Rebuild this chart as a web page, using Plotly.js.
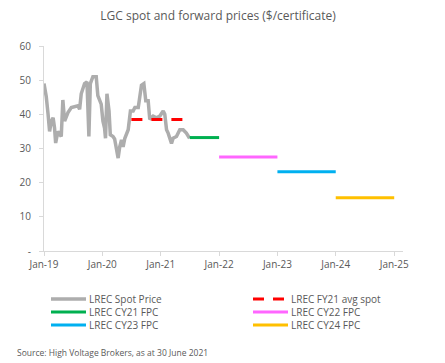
<!DOCTYPE html>
<html>
<head>
<meta charset="utf-8">
<script src="https://cdn.plot.ly/plotly-3.0.1.min.js"></script>
<style>html,body{margin:0;padding:0;background:#fff;}#chart{width:445px;height:363px;}</style>
</head>
<body>
<div id="chart"></div>
<script>
// LREC spot price
const spotDates = ['2019-01-01','2019-01-15','2019-01-26','2019-02-05','2019-02-16','2019-02-27','2019-03-08','2019-03-15','2019-03-29','2019-04-19','2019-04-29','2019-05-10','2019-05-31','2019-06-21','2019-08-01','2019-08-12','2019-08-22','2019-09-12','2019-09-27','2019-10-09','2019-10-18','2019-11-03','2019-11-24','2019-12-04','2019-12-25','2020-01-05','2020-01-15','2020-01-21','2020-01-30','2020-02-12','2020-02-20','2020-03-08','2020-03-18','2020-03-29','2020-04-09','2020-04-19','2020-04-30','2020-05-10','2020-05-21','2020-06-11','2020-06-25','2020-07-12','2020-07-23','2020-08-13','2020-08-23','2020-09-02','2020-09-17','2020-09-29','2020-10-14','2020-10-24','2020-11-14','2020-12-05','2020-12-26','2021-01-16','2021-01-26','2021-02-06','2021-02-16','2021-03-09','2021-03-19','2021-04-09','2021-04-30','2021-05-21','2021-06-10','2021-06-30'];
const spotValues = [49,45.2,40.3,35,38,39,36,31.6,35,33.5,44.2,38,40.5,42,42.5,41.5,46,49,49.5,33.5,49,51,51,45.5,43,38,36,33,46,41,34,33.5,32.8,29.6,27.2,30.5,32.5,30.5,33,35.5,41,41,42,42,45,48.5,49,44,44,38.5,39.5,39,39.5,41,40,35.5,34.5,31.5,33,33.5,35.5,35.5,34.5,33];

// Averages / forward price curves
const fy21Dates = ['2020-07-01','2021-06-30'];
const fy21Values = [38.5,38.5];
const cy21Dates = ['2021-07-01','2022-01-01'];
const cy21Values = [33.2,33.2];
const cy22Dates = ['2022-01-01','2023-01-01'];
const cy22Values = [27.5,27.5];
const cy23Dates = ['2023-01-01','2024-01-01'];
const cy23Values = [23.2,23.2];
const cy24Dates = ['2024-01-01','2025-01-01'];
const cy24Values = [15.6,15.6];

const yTickVals = [0,10,20,30,40,50,60];
const yTickText = ['-','10','20','30','40','50','60'];
const xTickVals = ['2019-01-01','2020-01-01','2021-01-01','2022-01-01','2023-01-01','2024-01-01','2025-01-01'];
const xTickText = ['Jan-19','Jan-20','Jan-21','Jan-22','Jan-23','Jan-24','Jan-25'];

const FONT = '"Open Sans", sans-serif';
const TXT = '#595959';

const series = [
  {name:'LREC Spot Price', x:spotDates, y:spotValues, color:'#ADADAD', width:3.5, dash:'solid'},
  {name:'LREC FY21 avg spot', x:fy21Dates, y:fy21Values, color:'#FF0000', width:3, dash:'11px,9px'},
  {name:'LREC CY21 FPC', x:cy21Dates, y:cy21Values, color:'#00B050', width:3, dash:'solid'},
  {name:'LREC CY22 FPC', x:cy22Dates, y:cy22Values, color:'#FF66FF', width:3, dash:'solid'},
  {name:'LREC CY23 FPC', x:cy23Dates, y:cy23Values, color:'#00B0F0', width:3, dash:'solid'},
  {name:'LREC CY24 FPC', x:cy24Dates, y:cy24Values, color:'#FFC000', width:3, dash:'solid'}
];

const traces = series.map(s => ({
  type:'scatter', mode:'lines', name:s.name, x:s.x, y:s.y,
  line:{color:s.color, width:s.width, dash:s.dash},
  showlegend:false, hoverinfo:'skip'
}));

// plot area in pixels
const W = 445, H = 363, L = 44, R = 42, T = 46, B = 112;
const pw = W - L - R, ph = H - T - B;
const px = x => (x - L) / pw;
const py = y => (H - B - y) / ph;

// custom legend: two columns, each column's names as one multi-line text
const LEG_SIZE = 10;
const pitch = LEG_SIZE * 1.3;
const midY = 312;
const shapes = [], annotations = [];
const colX = [51, 253];
[0, 1].forEach(c => {
  const items = series.filter((s, i) => i % 2 === c);
  items.forEach((s, r) => {
    const y = midY + (r - 1) * pitch;
    shapes.push({type:'line', xref:'paper', yref:'paper', x0:px(colX[c]), x1:px(colX[c] + 35), y0:py(y), y1:py(y),
      line:{color:s.color, width:s.width, dash: s.dash === 'solid' ? 'solid' : '11px,9px'}});
  });
  annotations.push({xref:'paper', yref:'paper', x:px(colX[c] + 37), y:py(midY), xanchor:'left', yanchor:'middle',
    align:'left', text:items.map(s => s.name).join('<br>'), showarrow:false, borderpad:0,
    font:{family:FONT, size:LEG_SIZE, color:TXT}});
});
annotations.push({xref:'paper', yref:'paper', x:px(15), y:py(352), xanchor:'left', yanchor:'middle',
  text:'Source: High Voltage Brokers, as at 30 June 2021', showarrow:false, font:{family:FONT, size:8.5, color:TXT}});

const layout = {
  width:W, height:H,
  margin:{l:L, r:R, t:T, b:B},
  paper_bgcolor:'#fff', plot_bgcolor:'#fff',
  title:{text:'LGC spot and forward prices ($/certificate)', x:0.49, xanchor:'center', y:1 - 16/H, yanchor:'middle',
    font:{family:FONT, size:12, color:TXT}},
  font:{family:FONT, color:TXT},
  xaxis:{type:'date', range:['2019-01-01','2025-02-25'], tickvals:xTickVals, ticktext:xTickText,
    showgrid:false, zeroline:false, showline:true, linecolor:'#D9D9D9', linewidth:1,
    ticks:'outside', ticklen:4, tickcolor:'#D9D9D9', tickfont:{family:FONT, size:10, color:TXT}},
  yaxis:{range:[0,60], tickvals:yTickVals, ticktext:yTickText,
    showgrid:false, zeroline:false, showline:true, linecolor:'#D9D9D9', linewidth:1,
    ticks:'outside', ticklen:4, tickcolor:'#D9D9D9', ticklabelstandoff:6, tickfont:{family:FONT, size:10, color:TXT}},
  shapes:shapes, annotations:annotations, showlegend:false
};

Plotly.newPlot('chart', traces, layout, {staticPlot:true, displayModeBar:false});
</script>
</body>
</html>
